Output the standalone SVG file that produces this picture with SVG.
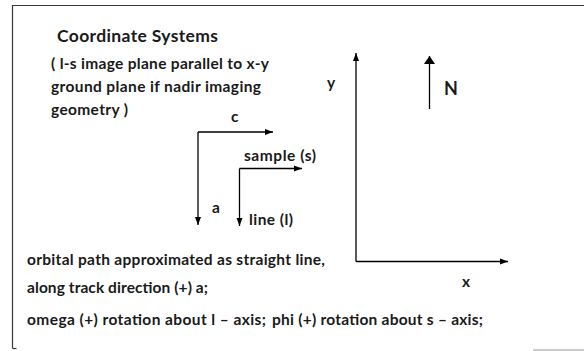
<svg xmlns="http://www.w3.org/2000/svg" width="584" height="351" viewBox="0 0 584 351">
<style>
  .t { font-family: Lato, "Open Sans", "Liberation Sans", sans-serif; font-weight: 700; fill: #1a1a1a; font-size: 15.5px; }
  .title { font-size: 17.5px; }
  .big { font-size: 18px; }
  .ln { stroke: #000; stroke-width: 1.3; fill: none; }
  .frame { stroke: #3a3a3a; stroke-width: 1.2; fill: none; }
</style>
<defs>
  <marker id="ah" markerUnits="userSpaceOnUse" markerWidth="10" markerHeight="8" refX="8" refY="4" orient="auto">
    <path d="M0,1 L8,4 L0,7 Z" fill="#000"/>
  </marker>
  <marker id="ahBig" markerUnits="userSpaceOnUse" markerWidth="10" markerHeight="12" refX="8" refY="6" orient="auto">
    <path d="M0,0.5 L8,6 L0,11.5 Z" fill="#000"/>
  </marker>
</defs>
<rect width="584" height="351" fill="#fff"/>
<g id="frame">
  <path class="frame" d="M12.5,348.5 L12.5,5.5 L584,5.5"/>
  <path class="frame" d="M12.5,348.5 L16.5,348.5"/>
  <path d="M533,350 L584,350" stroke="#9a9a9a" stroke-width="1.2"/>
</g>
<g id="connectors">
  <path class="ln" d="M198,132 L273,132" marker-end="url(#ah)"/>
  <path class="ln" d="M198,132 L198,225" marker-end="url(#ah)"/>
  <path class="ln" d="M239.5,168.5 L302,168.5" marker-end="url(#ah)"/>
  <path class="ln" d="M239.5,168.5 L239.5,226" marker-end="url(#ah)"/>
  <path class="ln" d="M356,261.5 L356,53" marker-end="url(#ah)"/>
  <path class="ln" d="M356,261.5 L508,261.5" marker-end="url(#ah)"/>
  <path class="ln" d="M429.5,109 L429.5,56" marker-end="url(#ahBig)"/>
</g>
<g id="title"><text class="t title" x="57" y="41.5" textLength="161">Coordinate Systems</text></g>
<g id="note">
  <text class="t" x="51" y="69" textLength="218">( l-s image plane parallel to x-y</text>
  <text class="t" x="51" y="92" textLength="210">ground plane if nadir imaging</text>
  <text class="t" x="51" y="115" textLength="77">geometry )</text>
</g>
<g id="label-c"><text class="t" x="231" y="122">c</text></g>
<g id="label-a"><text class="t" x="212" y="213">a</text></g>
<g id="label-sample"><text class="t" x="244" y="161" textLength="72">sample (s)</text></g>
<g id="label-line"><text class="t" x="249" y="225" textLength="44">line (l)</text></g>
<g id="label-y"><text class="t" x="327" y="88">y</text></g>
<g id="label-x"><text class="t" x="462" y="287">x</text></g>
<g id="label-N"><text class="t big" x="444" y="95">N</text></g>
<g id="notes-bottom">
  <text class="t" x="27" y="265" textLength="298">orbital path approximated as straight line,</text>
  <text class="t" x="27" y="293" textLength="181">along track direction (+) a;</text>
  <text class="t" x="27" y="325" textLength="239">omega (+) rotation about l – axis;</text>
  <text class="t" x="272" y="325" textLength="211">phi (+) rotation about s – axis;</text>
</g>
</svg>
